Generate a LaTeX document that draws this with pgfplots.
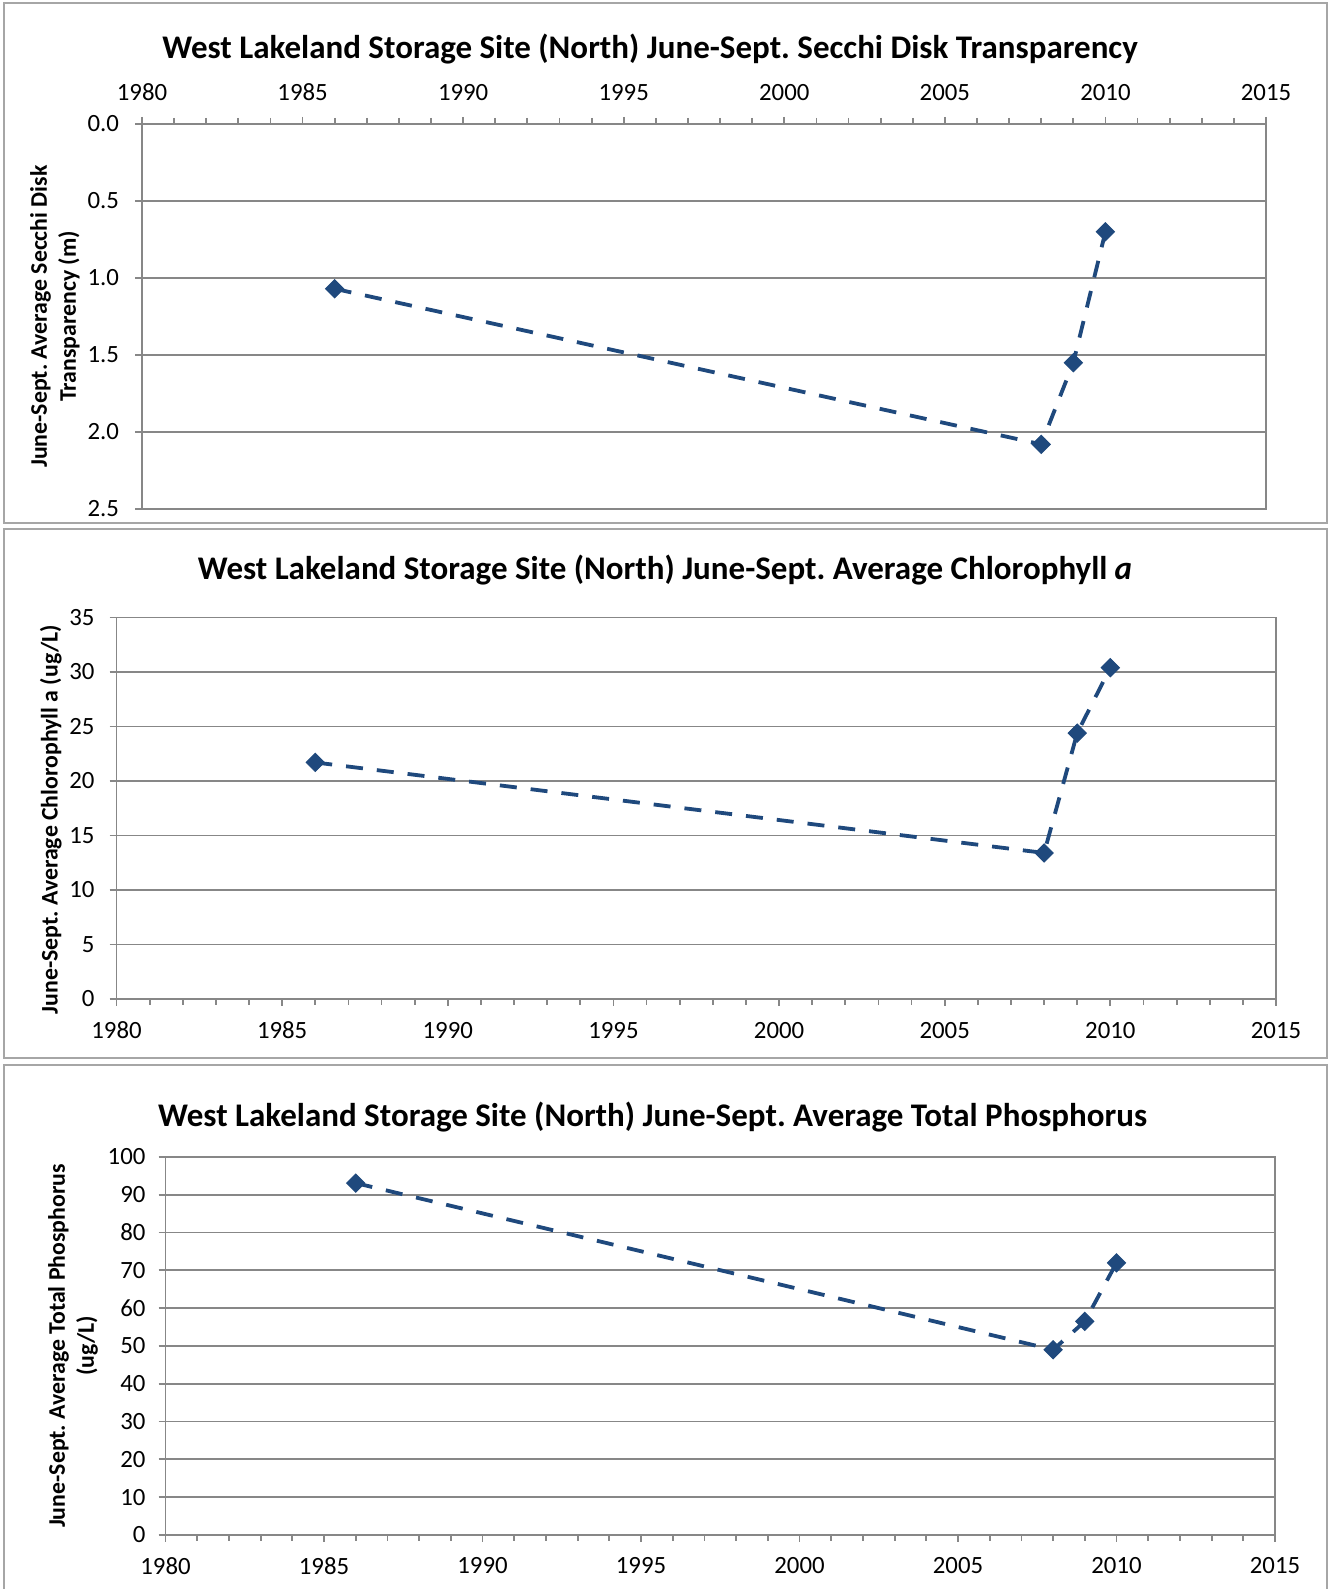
\documentclass[border=0pt]{standalone}
\usepackage{fontspec}
\setmainfont{Carlito}
\usepackage{pgfplots}
\pgfplotsset{compat=1.18}
\frenchspacing
\definecolor{serie}{HTML}{1F497D}
\definecolor{axgray}{HTML}{878787}
\definecolor{framegray}{HTML}{A6A6A6}
\pgfplotsset{
  every axis title shift=0pt,
  panel/.style={
    scale only axis,
    axis line style={axgray, line width=0.9pt},
    grid style={axgray, line width=0.9pt},
    ymajorgrids,
    xmin=1980, xmax=2015,
    xtick={1980,1985,...,2015},
    minor x tick num=4,
    tick style={axgray, line width=0.9pt},
    major tick length=3.5pt, minor tick length=3pt,
    tick align=outside,
    ytick pos=left,
    /pgf/number format/assume math mode=true,
    /pgf/number format/set thousands separator={},
    tick label style={font=\fontsize{12.4}{14}\selectfont},
    yticklabel style={xshift=-4pt},
    title style={font=\bfseries\fontsize{16.5}{19}\selectfont, anchor=center, yshift=0pt},
    ylabel style={font=\bfseries\fontsize{11.9}{14.5}\selectfont, align=center, anchor=center},
  },
  series/.style={serie, line width=1.9pt, dash pattern=on 8.5pt off 7pt,
    mark=square*, mark size=3.2pt, mark options={solid, rotate=45, fill=serie, draw=serie, line width=0.5pt}},
}
\begin{document}
\begin{tikzpicture}
\useasboundingbox (0,0) rectangle (664pt,794.5pt);
\fill[white] (0,0) rectangle (664pt,794.5pt);
\draw[framegray, line width=1pt] (1.75pt,533pt) rectangle (663.25pt,792.75pt);
\draw[framegray, line width=1pt] (1.75pt,265.25pt) rectangle (663.25pt,530pt);
\draw[framegray, line width=1pt] (663.25pt,-3pt) -- (663.25pt,261.75pt) -- (1.75pt,261.75pt) -- (1.75pt,-3pt);

% Panel 1: Secchi
\begin{axis}[panel, at={(71pt,540pt)}, anchor=south west, width=562pt, height=192.5pt,
  y dir=reverse, ymin=0, ymax=2.5, ytick={0,0.5,1,1.5,2,2.5},
  yticklabel style={/pgf/number format/fixed, /pgf/number format/fixed zerofill, /pgf/number format/precision=1, xshift=-0.5pt},
  xtick pos=upper, xticklabel pos=upper,
  xticklabel style={yshift=4.5pt},
  title={West Lakeland Storage Site (North) June-Sept. Secchi Disk Transparency},
  title style={at={(axis description cs:0.452,1.194)}},
  ylabel={June-Sept. Average Secchi Disk\\Transparency (m)},
  ylabel style={at={(axis description cs:-0.0776,0.5)}},
]
\addplot[series] coordinates {(1986,1.07) (2008,2.08) (2009,1.55) (2010,0.70)};
\end{axis}

% Panel 2: Chlorophyll a
\begin{axis}[panel, at={(58.25pt,295pt)}, anchor=south west, width=579.75pt, height=190.75pt,
  ymin=0, ymax=35, ytick={0,5,...,35},
  xtick pos=lower, xticklabel pos=lower,
  xticklabel style={yshift=-4.5pt},
  title={West Lakeland Storage Site (North) June-Sept. Average Chlorophyll \textit{a}},
  title style={at={(axis description cs:0.473,1.125)}},
  ylabel={June-Sept. Average Chlorophyll a (ug/L)},
  ylabel style={at={(axis description cs:-0.0567,0.47)}},
]
\addplot[series] coordinates {(1986,21.7) (2008,13.4) (2009,24.4) (2010,30.4)};
\end{axis}

% Panel 3: Total Phosphorus
\begin{axis}[panel, at={(82.75pt,27pt)}, anchor=south west, width=554.75pt, height=189pt,
  ymin=0, ymax=100, ytick={0,10,...,100},
  yticklabel style={xshift=1pt},
  xtick pos=lower, xticklabel pos=lower,
  xticklabel style={yshift=-4.3pt},
  title={West Lakeland Storage Site (North) June-Sept. Average Total Phosphorus},
  title style={at={(axis description cs:0.439,1.106)}},
  ylabel={June-Sept. Average Total Phosphorus\\(ug/L)},
  ylabel style={at={(axis description cs:-0.0834,0.5)}},
]
\addplot[series] coordinates {(1986,93.1) (2008,49.0) (2009,56.5) (2010,72.0)};
\end{axis}
\end{tikzpicture}
\end{document}
